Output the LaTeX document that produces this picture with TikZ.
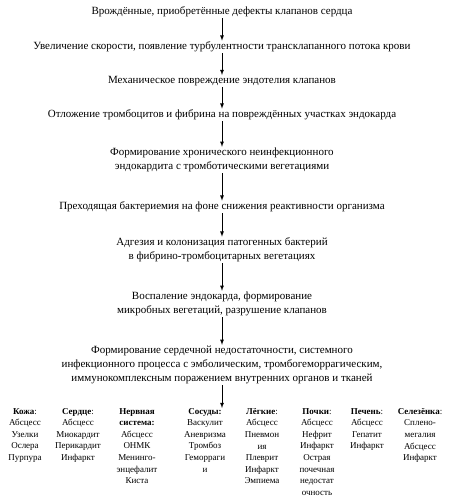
\documentclass[tikz,border=0pt]{standalone}
\usepackage{fontspec}
\setmainfont{Liberation Serif}

\begin{document}
\begin{tikzpicture}[x=1pt, y=1pt,
        stage/.style={align=center, inner sep=1pt, font=\fontsize{11}{14}\selectfont},
        organ/.style={align=center, anchor=north, inner sep=1pt, font=\fontsize{9}{11.6}\selectfont},
        flow/.style={-latex, thick}]
        \useasboundingbox (0,0) rectangle (457,-502);
        \node[stage] (defects) at (222,-12) {Врождённые, приобретённые дефекты клапанов сердца};
        \node[stage] (turbulence) at (222,-47) {Увеличение скорости, появление турбулентности трансклапанного потока крови};
        \node[stage] (damage) at (222,-81) {Механическое повреждение эндотелия клапанов};
        \node[stage] (deposit) at (222,-115) {Отложение тромбоцитов и фибрина на повреждённых участках эндокарда};
        \node[stage] (chronic) at (222,-160) {Формирование хронического неинфекционного\\эндокардита с тромботическими вегетациями};
        \node[stage] (bacteremia) at (222,-207) {Преходящая бактериемия на фоне снижения реактивности организма};
        \node[stage] (adhesion) at (222,-250) {Адгезия и колонизация патогенных бактерий\\в фибрино-тромбоцитарных вегетациях};
        \node[stage] (inflammation) at (222,-304) {Воспаление эндокарда, формирование\\микробных вегетаций, разрушение клапанов};
        \node[stage] (failure) at (222,-365) {Формирование сердечной недостаточности, системного\\инфекционного процесса с эмболическим, тромбогеморрагическим,\\иммунокомплексным поражением внутренних органов и тканей};
        \coordinate (organs) at (222,-408);
        % organs
        \node[organ] (skin) at (25,-407) {\textbf{Кожа}:\\Абсцесс\\Узелки\\Ослера\\Пурпура};
        \node[organ] (heart) at (78,-407) {\textbf{Сердце}:\\Абсцесс\\Миокардит\\Перикардит\\Инфаркт};
        \node[organ] (nervous) at (137,-407) {\textbf{Нервная}\\\textbf{система:}\\Абсцесс\\ОНМК\\Менинго-\\энцефалит\\Киста};
        \node[organ] (vessels) at (205,-407) {\textbf{Сосуды:}\\Васкулит\\Аневризма\\Тромбоз\\Геморраги\\и};
        \node[organ] (lungs) at (262,-407) {\textbf{Лёгкие}:\\Абсцесс\\Пневмон\\ия\\Плеврит\\Инфаркт\\Эмпиема};
        \node[organ] (kidneys) at (317,-407) {\textbf{Почки}:\\Абсцесс\\Нефрит\\Инфаркт\\Острая\\почечная\\недостат\\очность};
        \node[organ] (liver) at (367,-407) {\textbf{Печень}:\\Абсцесс\\Гепатит\\Инфаркт};
        \node[organ] (spleen) at (420,-407) {\textbf{Селезёнка}:\\Сплено-\\мегалия\\Абсцесс\\Инфаркт};
        % arrows
        \draw[flow] (defects) -- (turbulence);
        \draw[flow] (turbulence) -- (damage);
        \draw[flow] (damage) -- (deposit);
        \draw[flow] (deposit) -- (chronic);
        \draw[flow] (chronic) -- (bacteremia);
        \draw[flow] (bacteremia) -- (adhesion);
        \draw[flow] (adhesion) -- (inflammation);
        \draw[flow] (inflammation) -- (failure);
        \draw[flow] (failure) -- (organs);
\end{tikzpicture}
\end{document}
